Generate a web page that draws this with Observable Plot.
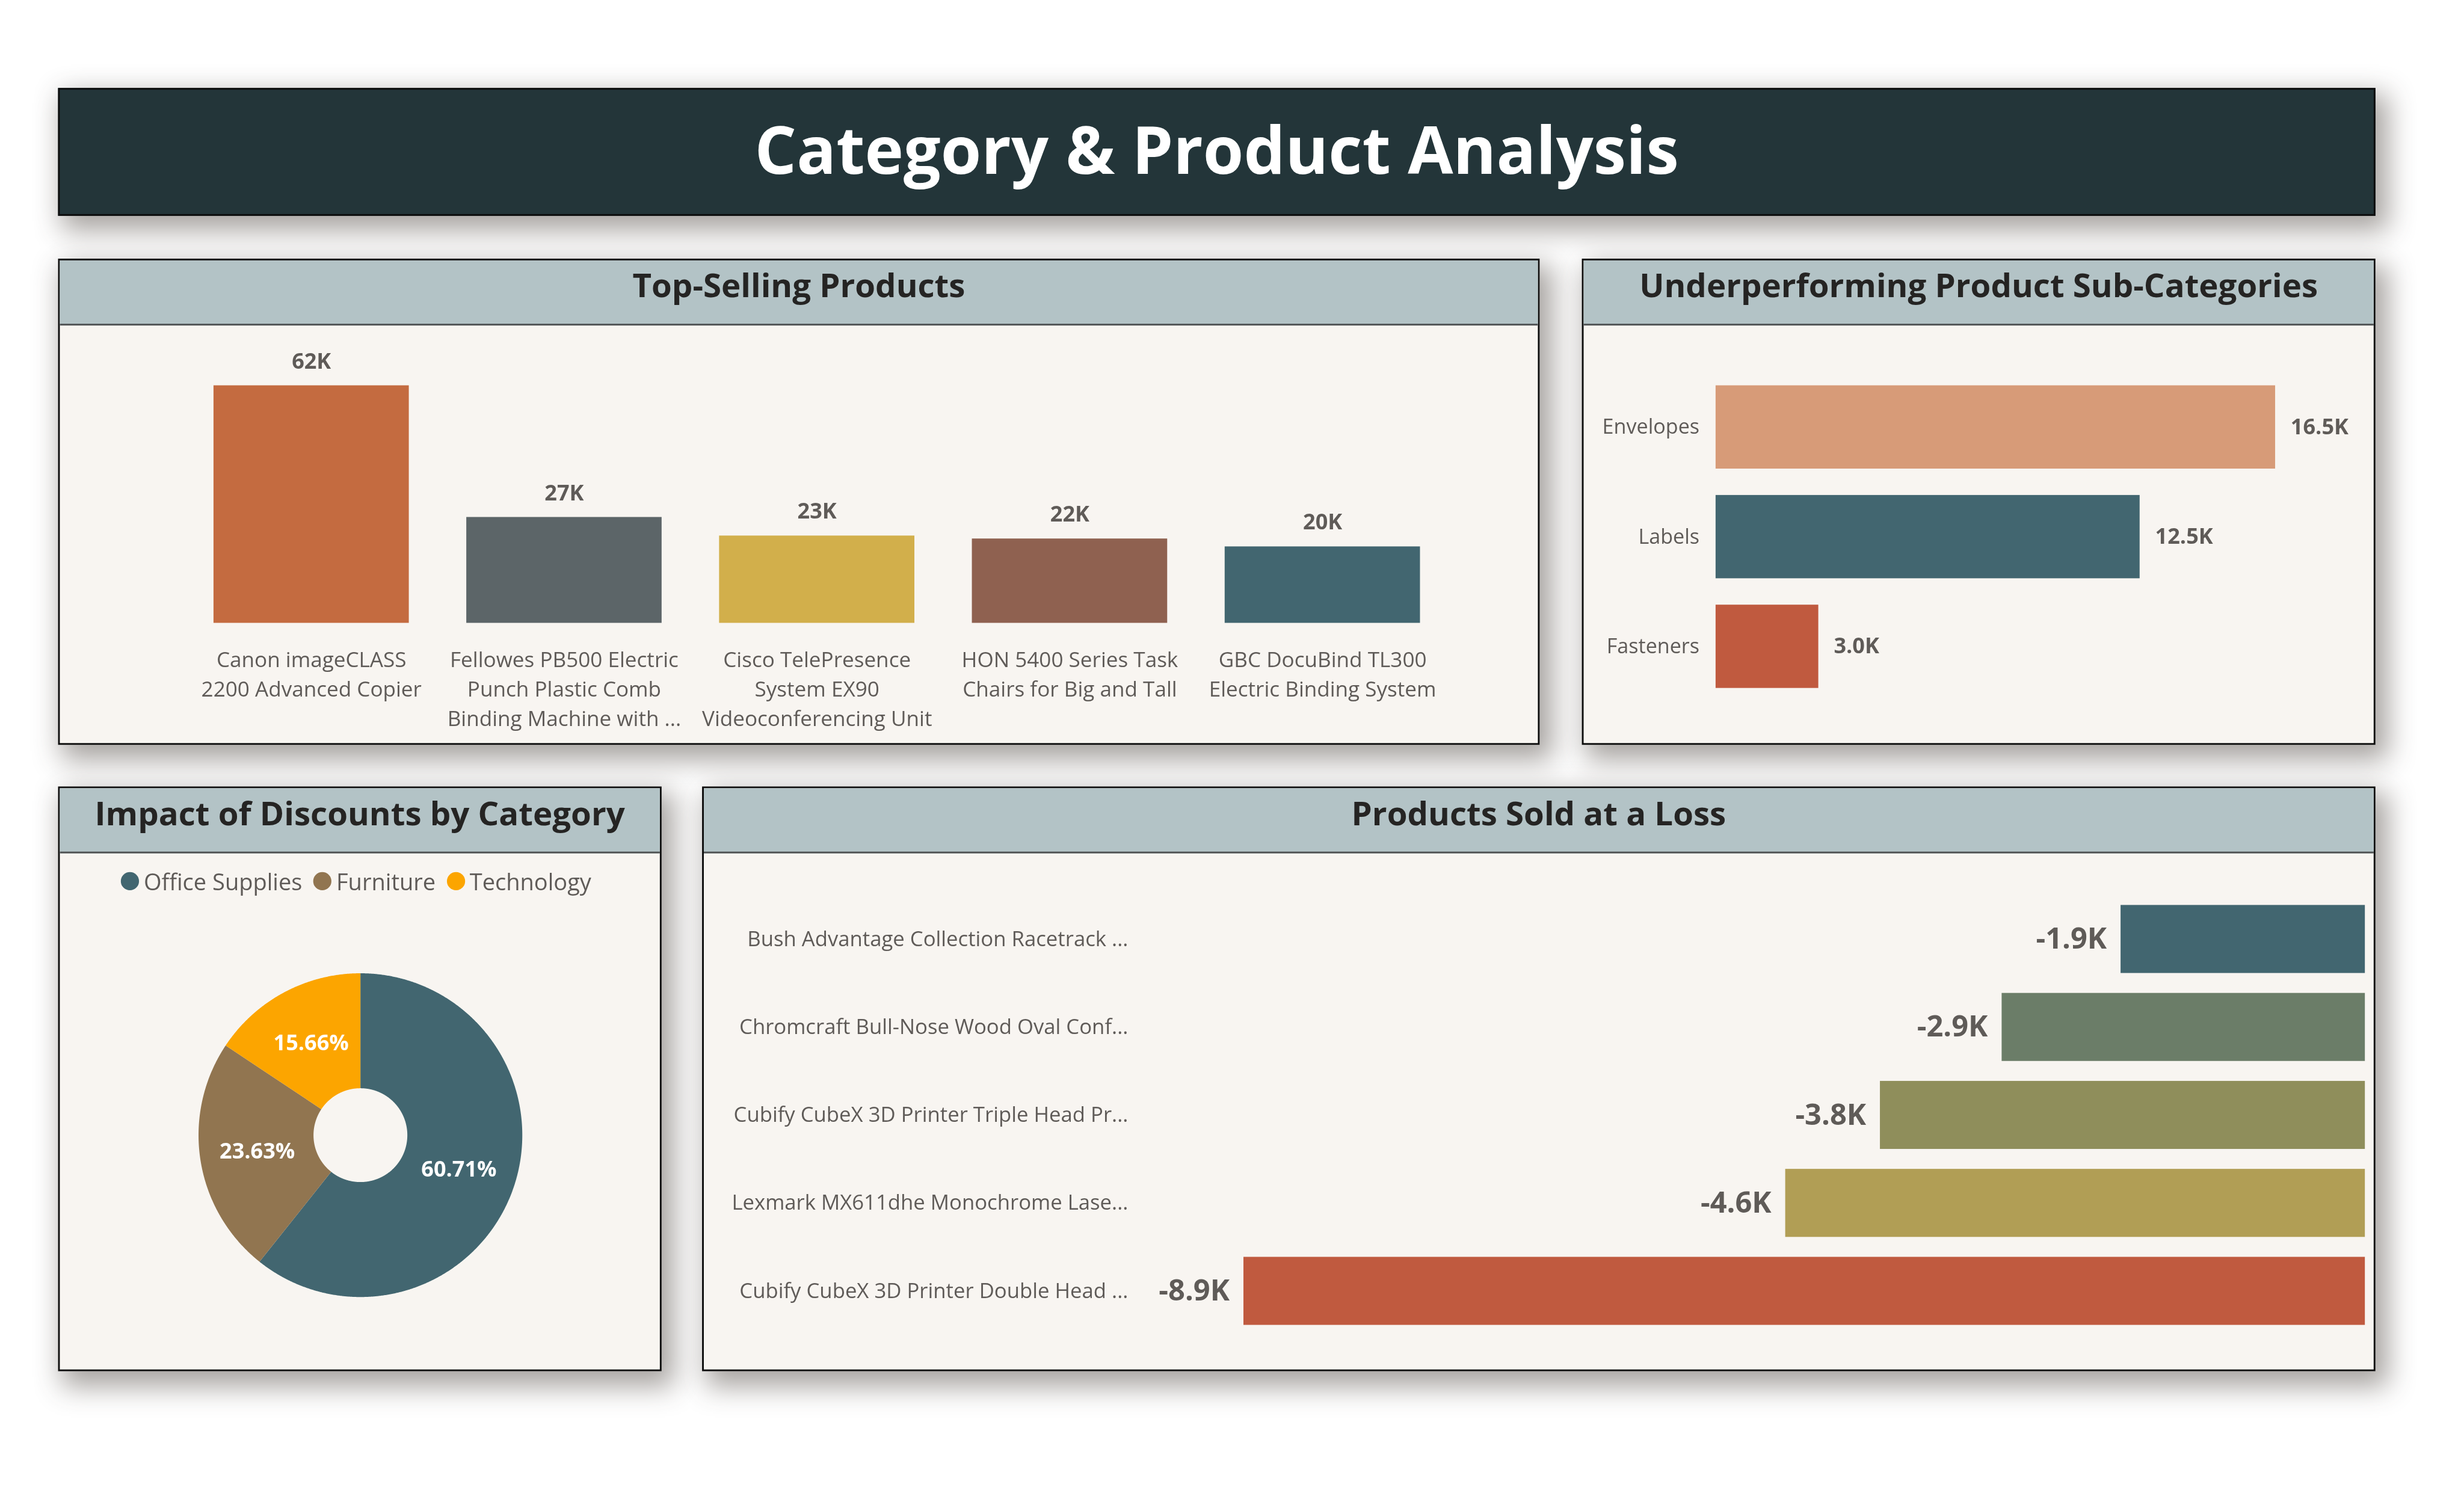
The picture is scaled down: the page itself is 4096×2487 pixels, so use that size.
<!DOCTYPE html>
<html>
<head>
<meta charset="utf-8">
<script src="https://cdn.jsdelivr.net/npm/d3@7"></script>
<script src="https://cdn.jsdelivr.net/npm/@observablehq/plot@0.6"></script>
<style>
html, body { margin:0; padding:0; background:#ffffff; overflow:hidden; width:4096px; height:2487px; }
#root { position:absolute; left:0; top:0; width:4200px; height:2550px; transform:scale(0.975); transform-origin:0 0; font-family:"Open Sans","Noto Sans",sans-serif; }
.panel { position:absolute; box-sizing:border-box; background:#f8f5f1; border:3px solid #0d0d0d; box-shadow:14px 18px 44px 8px rgba(60,50,45,0.45); }
.hdr { position:absolute; left:0; top:0; right:0; height:111px; box-sizing:border-box; background:#b3c3c6; border-bottom:3px solid #505354; }
.hdr span { position:absolute; left:0; right:0; top:13px; text-align:center; font-weight:700; font-size:56px; line-height:56px; color:#252423; white-space:nowrap; }
#banner { background:#233539; }
#banner span { position:absolute; left:0; right:0; top:44px; text-align:center; font-weight:700; font-size:112px; line-height:112px; color:#ffffff; white-space:nowrap; }
.chart { position:absolute; }
.chart svg { display:block; }
#legend { position:absolute; left:206px; top:1483px; display:flex; align-items:center; font-size:39px; line-height:39px; color:#5f5b58; white-space:nowrap; }
#legend .item { display:flex; align-items:center; margin-right:19px; }
#legend .dot { width:31px; height:31px; border-radius:50%; margin-right:8px; }
</style>
</head>
<body>
<div id="root">
  <div class="panel" id="banner" style="left:99px;top:150px;width:3951px;height:218px;"><span>Category &amp; Product Analysis</span></div>
  <div class="panel" style="left:99px;top:441px;width:2526px;height:829px;"><div class="hdr"><span>Top-Selling Products</span></div></div>
  <div class="panel" style="left:2697px;top:441px;width:1353px;height:829px;"><div class="hdr"><span>Underperforming Product Sub-Categories</span></div></div>
  <div class="panel" style="left:99px;top:1341px;width:1029px;height:997px;"><div class="hdr"><span>Impact of Discounts by Category</span></div></div>
  <div class="panel" style="left:1197px;top:1341px;width:2853px;height:997px;"><div class="hdr"><span>Products Sold at a Loss</span></div></div>
  <div class="chart" id="topChart" style="left:102px;top:560px;"></div>
  <div class="chart" id="subChart" style="left:2700px;top:560px;"></div>
  <div class="chart" id="pieChart" style="left:314px;top:1635px;"></div>
  <div id="legend"></div>
  <div class="chart" id="lossChart" style="left:1200px;top:1458px;"></div>
</div>
<script>
// ---------- data ----------
const topProducts = [
  "Canon imageCLASS\n2200 Advanced Copier",
  "Fellowes PB500 Electric\nPunch Plastic Comb\nBinding Machine with ...",
  "Cisco TelePresence\nSystem EX90\nVideoconferencing Unit",
  "HON 5400 Series Task\nChairs for Big and Tall",
  "GBC DocuBind TL300\nElectric Binding System"
];
const topSales = [61599.82, 27453.38, 22638.48, 21870.58, 19823.48];
const topColors = ["#c46b40", "#5c6568", "#d2af4b", "#8f6150", "#426670"];

const subCategories = ["Envelopes", "Labels", "Fasteners"];
const subCategorySales = [16476.40, 12486.31, 3024.28];
const subColors = ["#d79b78", "#426670", "#c05a3f"];

const discountCategories = ["Office Supplies", "Furniture", "Technology"];
const discountShares = [60.71, 23.63, 15.66];
const discountColors = ["#426670", "#917550", "#fca500"];

const lossProducts = [
  "Bush Advantage Collection Racetrack ...",
  "Chromcraft Bull-Nose Wood Oval Conf...",
  "Cubify CubeX 3D Printer Triple Head Pr...",
  "Lexmark MX611dhe Monochrome Lase...",
  "Cubify CubeX 3D Printer Double Head ..."
];
const lossProfits = [-1934.40, -2876.12, -3839.99, -4589.97, -8879.97];
const lossColors = ["#426670", "#6b7d68", "#8f8e5b", "#b19e55", "#c05a3f"];

// ---------- helpers ----------
const FONT = '"Open Sans","Noto Sans",sans-serif';
const GREY = "#5f5b58";
const baseStyle = {background: "transparent", fontFamily: FONT, overflow: "visible"};
const kRound = v => Math.round(v / 1000) + "K";
const kOne = v => (v / 1000).toFixed(1) + "K";

// ---------- Top-Selling Products ----------
const topData = topProducts.map((name, i) => ({name, sales: topSales[i]}));
document.getElementById("topChart").append(Plot.plot({
  width: 2520, height: 705,
  marginLeft: 162.7, marginRight: 102.7, marginTop: 97, marginBottom: 203,
  style: baseStyle,
  x: {domain: topProducts, padding: 0.228, axis: null},
  y: {domain: [0, d3.max(topSales)], axis: null},
  color: {domain: topProducts, range: topColors},
  marks: [
    Plot.barY(topData, {x: "name", y: "sales", fill: "name"}),
    Plot.text(topData, {x: "name", y: "sales", text: d => kRound(d.sales), dy: -41, fontSize: 37, fontWeight: 700, fill: GREY}),
    Plot.text(topData, {x: "name", y: () => 0, text: "name", lineAnchor: "top", dy: 39, lineHeight: 1.4, fontSize: 36, fill: GREY})
  ]
}));

// ---------- Underperforming Sub-Categories ----------
const subData = subCategories.map((name, i) => ({name, sales: subCategorySales[i]}));
document.getElementById("subChart").append(Plot.plot({
  width: 1347, height: 705,
  marginLeft: 225, marginRight: 168, marginTop: 51, marginBottom: 46.5,
  style: baseStyle,
  x: {domain: [0, d3.max(subCategorySales)], axis: null},
  y: {domain: subCategories, padding: 0.24, axis: null},
  color: {domain: subCategories, range: subColors},
  marks: [
    Plot.barX(subData, {x: "sales", y: "name", fill: "name"}),
    Plot.text(subData, {x: "sales", y: "name", text: d => kOne(d.sales), textAnchor: "start", dx: 26, fontSize: 37, fontWeight: 700, fill: GREY}),
    Plot.text(subData, {x: () => 0, y: "name", text: "name", textAnchor: "end", dx: -28, fontSize: 35, fill: GREY})
  ]
}));

// ---------- Impact of Discounts (donut) ----------
const discountData = discountCategories.map((category, i) => ({category, share: discountShares[i]}));
const arcs = d3.pie().sort(null).value(d => d.share)(discountData);
const innerRatio = 80 / 276;
const piePoints = arcs.flatMap(a => {
  const n = Math.ceil((a.endAngle - a.startAngle) / 0.005);
  const pts = [];
  for (let i = 0; i <= n; i++) {
    const t = a.startAngle + (a.endAngle - a.startAngle) * i / n;
    pts.push({category: a.data.category, x: Math.sin(t), y: Math.cos(t)});
  }
  for (let i = n; i >= 0; i--) {
    const t = a.startAngle + (a.endAngle - a.startAngle) * i / n;
    pts.push({category: a.data.category, x: innerRatio * Math.sin(t), y: innerRatio * Math.cos(t)});
  }
  return pts;
});
const midR = (1 + innerRatio) / 2;
const pieLabels = arcs.map(a => {
  const m = (a.startAngle + a.endAngle) / 2;
  return {x: midR * Math.sin(m), y: midR * Math.cos(m), text: a.data.share.toFixed(2) + "%"};
});
document.getElementById("pieChart").append(Plot.plot({
  width: 600, height: 600, margin: 24,
  style: baseStyle,
  x: {domain: [-1, 1], axis: null},
  y: {domain: [-1, 1], axis: null},
  color: {domain: discountCategories, range: discountColors},
  marks: [
    Plot.line(piePoints, {x: "x", y: "y", z: "category", fill: "category", stroke: "none", curve: "linear-closed"}),
    Plot.text(pieLabels, {x: "x", y: "y", text: "text", fill: "#ffffff", fontSize: 37, fontWeight: 700})
  ]
}));
const legend = document.getElementById("legend");
discountCategories.forEach((c, i) => {
  const item = document.createElement("div");
  item.className = "item";
  const dot = document.createElement("span");
  dot.className = "dot";
  dot.style.background = discountColors[i];
  const label = document.createElement("span");
  label.textContent = c;
  item.append(dot, label);
  legend.append(item);
});

// ---------- Products Sold at a Loss ----------
const lossData = lossProducts.map((name, i) => ({name, profit: lossProfits[i]}));
document.getElementById("lossChart").append(Plot.plot({
  width: 2847, height: 877,
  marginLeft: 920, marginRight: 15, marginTop: 49.5, marginBottom: 40.5,
  style: baseStyle,
  x: {domain: [d3.min(lossProfits), 0], axis: null},
  y: {domain: lossProducts, padding: 0.229, axis: null},
  color: {domain: lossProducts, range: lossColors},
  marks: [
    Plot.barX(lossData, {x: "profit", y: "name", fill: "name"}),
    Plot.text(lossData, {x: "profit", y: "name", text: d => kOne(d.profit), textAnchor: "end", dx: -24, fontSize: 50, fontWeight: 700, fill: GREY}),
    Plot.text(lossData, {x: () => d3.min(lossProfits), y: "name", text: "name", textAnchor: "end", dx: -197, fontSize: 35.6, fill: GREY})
  ]
}));
</script>
</body>
</html>
